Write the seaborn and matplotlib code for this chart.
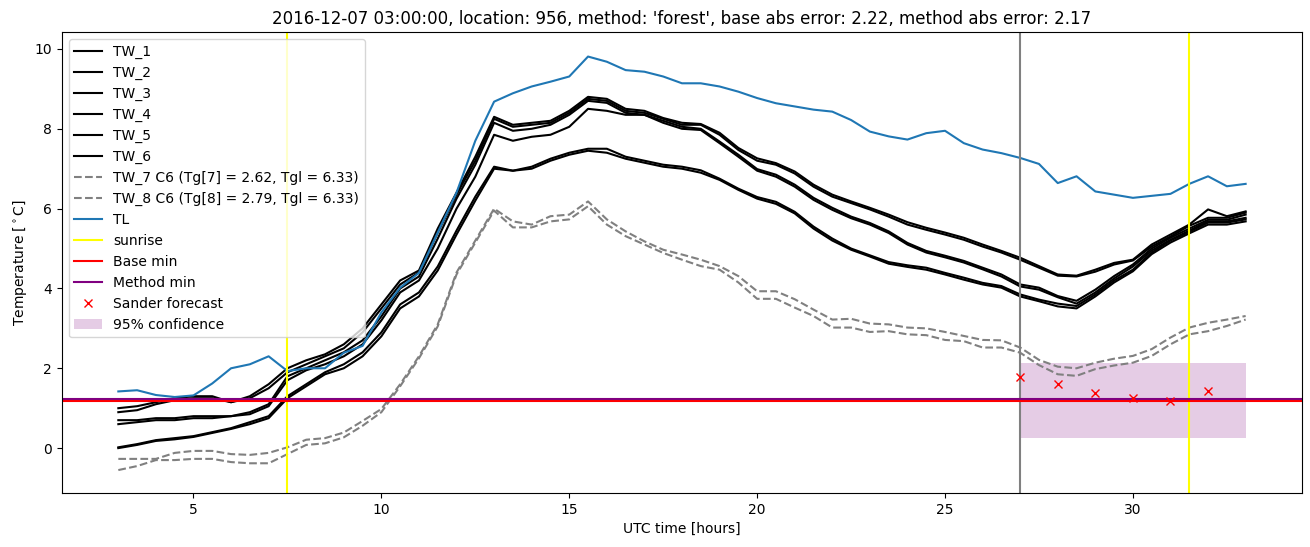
import matplotlib
matplotlib.use("Agg")
import matplotlib.pyplot as plt
import seaborn as sns
import pandas as pd

hours = [3.0, 3.5, 4.0, 4.5, 5.0, 5.5, 6.0, 6.5, 7.0, 7.5,
         8.0, 8.5, 9.0, 9.5, 10.0, 10.5, 11.0, 11.5, 12.0, 12.5,
         13.0, 13.5, 14.0, 14.5, 15.0, 15.5, 16.0, 16.5, 17.0, 17.5,
         18.0, 18.5, 19.0, 19.5, 20.0, 20.5, 21.0, 21.5, 22.0, 22.5,
         23.0, 23.5, 24.0, 24.5, 25.0, 25.5, 26.0, 26.5, 27.0, 27.5,
         28.0, 28.5, 29.0, 29.5, 30.0, 30.5, 31.0, 31.5, 32.0, 32.5,
         33.0]

tw1 = [1.0, 1.05, 1.15, 1.25, 1.3, 1.3, 1.15, 1.3, 1.6, 2.0,
       2.2, 2.35, 2.6, 3.0, 3.6, 4.2, 4.45, 5.5, 6.4, 7.3,
       8.3, 8.1, 8.15, 8.2, 8.45, 8.8, 8.75, 8.5, 8.45, 8.27,
       8.15, 8.12, 7.9, 7.52, 7.26, 7.14, 6.93, 6.6, 6.35, 6.18,
       6.02, 5.85, 5.66, 5.52, 5.4, 5.27, 5.1, 4.94, 4.77, 4.56,
       4.35, 4.32, 4.47, 4.64, 4.72, 5.1, 5.35, 5.6, 5.98, 5.81,
       5.93]
tw2 = [0.9, 0.95, 1.1, 1.2, 1.25, 1.25, 1.15, 1.25, 1.5, 1.9,
       2.1, 2.3, 2.5, 2.9, 3.5, 4.1, 4.4, 5.4, 6.35, 7.2,
       8.25, 8.05, 8.1, 8.15, 8.4, 8.75, 8.7, 8.45, 8.4, 8.25,
       8.1, 8.1, 7.85, 7.47, 7.2, 7.1, 6.88, 6.55, 6.3, 6.14,
       5.98, 5.8, 5.6, 5.47, 5.35, 5.22, 5.05, 4.9, 4.72, 4.52,
       4.32, 4.3, 4.42, 4.6, 4.7, 5.05, 5.3, 5.57, 5.77, 5.77,
       5.9]
tw3 = [0.7, 0.7, 0.75, 0.75, 0.8, 0.8, 0.8, 0.9, 1.1, 1.8,
       2.0, 2.2, 2.4, 2.7, 3.3, 4.0, 4.3, 5.25, 6.25, 7.1,
       8.15, 7.95, 8.0, 8.1, 8.35, 8.7, 8.65, 8.4, 8.35, 8.2,
       8.05, 8.0, 7.68, 7.35, 6.99, 6.85, 6.6, 6.27, 6.02, 5.8,
       5.64, 5.43, 5.14, 4.94, 4.82, 4.69, 4.52, 4.35, 4.1, 4.02,
       3.81, 3.69, 3.97, 4.31, 4.6, 5.0, 5.27, 5.5, 5.72, 5.72,
       5.85]
tw4 = [0.6, 0.65, 0.7, 0.7, 0.75, 0.75, 0.8, 0.85, 1.05, 1.7,
       1.95, 2.1, 2.3, 2.6, 3.2, 3.9, 4.2, 5.0, 6.0, 6.8,
       7.85, 7.7, 7.8, 7.85, 8.05, 8.5, 8.45, 8.35, 8.35, 8.15,
       8.0, 7.97, 7.64, 7.3, 6.95, 6.8, 6.55, 6.22, 5.97, 5.76,
       5.6, 5.39, 5.1, 4.9, 4.78, 4.65, 4.48, 4.3, 4.05, 3.97,
       3.78, 3.62, 3.9, 4.25, 4.55, 4.95, 5.22, 5.45, 5.68, 5.68,
       5.77]
tw5 = [0.02, 0.1, 0.2, 0.25, 0.3, 0.4, 0.5, 0.65, 0.8, 1.3,
       1.6, 1.9, 2.1, 2.4, 2.9, 3.6, 3.9, 4.55, 5.45, 6.3,
       7.05, 6.95, 7.05, 7.25, 7.4, 7.5, 7.5, 7.3, 7.2, 7.1,
       7.05, 6.96, 6.75, 6.5, 6.29, 6.17, 5.92, 5.55, 5.25, 5.0,
       4.83, 4.66, 4.58, 4.52, 4.39, 4.27, 4.14, 4.06, 3.85, 3.72,
       3.62, 3.56, 3.85, 4.2, 4.47, 4.9, 5.2, 5.42, 5.65, 5.65,
       5.73]
tw6 = [0.0, 0.08, 0.18, 0.22, 0.28, 0.38, 0.48, 0.6, 0.75, 1.25,
       1.55, 1.85, 2.0, 2.3, 2.8, 3.5, 3.8, 4.45, 5.35, 6.2,
       7.0, 6.95, 7.0, 7.2, 7.35, 7.45, 7.4, 7.25, 7.15, 7.05,
       7.0, 6.9, 6.72, 6.47, 6.25, 6.12, 5.88, 5.5, 5.2, 4.97,
       4.8, 4.62, 4.54, 4.47, 4.35, 4.22, 4.1, 4.02, 3.8, 3.68,
       3.55, 3.5, 3.8, 4.15, 4.43, 4.86, 5.15, 5.38, 5.6, 5.6,
       5.68]
tw7 = [-0.27, -0.27, -0.27, -0.12, -0.07, -0.07, -0.15, -0.17, -0.12, 0.02,
       0.21, 0.25, 0.39, 0.68, 0.98, 1.6, 2.3, 3.1, 4.4, 5.2,
       6.0, 5.68, 5.6, 5.81, 5.85, 6.18, 5.73, 5.43, 5.18, 4.97,
       4.85, 4.72, 4.56, 4.31, 3.93, 3.93, 3.73, 3.47, 3.22, 3.24,
       3.12, 3.1, 3.02, 3.0, 2.91, 2.81, 2.71, 2.7, 2.52, 2.21,
       2.04, 2.0, 2.14, 2.24, 2.31, 2.48, 2.77, 3.02, 3.14, 3.22,
       3.31]
tw8 = [-0.55, -0.45, -0.3, -0.3, -0.27, -0.27, -0.35, -0.38, -0.38, -0.15,
       0.08, 0.12, 0.27, 0.56, 0.9, 1.55, 2.25, 3.05, 4.35, 5.15,
       5.95, 5.53, 5.53, 5.68, 5.73, 6.06, 5.6, 5.31, 5.1, 4.89,
       4.72, 4.56, 4.47, 4.15, 3.74, 3.74, 3.52, 3.31, 3.02, 3.02,
       2.91, 2.93, 2.85, 2.83, 2.71, 2.68, 2.52, 2.52, 2.39, 2.08,
       1.85, 1.81, 1.98, 2.07, 2.14, 2.31, 2.6, 2.85, 2.93, 3.06,
       3.22]
tl = [1.42, 1.45, 1.33, 1.28, 1.32, 1.62, 2.0, 2.1, 2.3, 1.93,
      2.0, 2.0, 2.39, 2.56, 3.4, 4.02, 4.39, 5.4, 6.4, 7.7,
      8.68, 8.89, 9.06, 9.18, 9.31, 9.81, 9.68, 9.47, 9.43, 9.31,
      9.14, 9.14, 9.06, 8.93, 8.77, 8.64, 8.56, 8.48, 8.43, 8.22,
      7.93, 7.81, 7.73, 7.89, 7.95, 7.64, 7.48, 7.39, 7.27, 7.12,
      6.64, 6.81, 6.43, 6.35, 6.27, 6.32, 6.37, 6.62, 6.81, 6.56,
      6.62]

tw_labels = ["TW_1", "TW_2", "TW_3", "TW_4", "TW_5", "TW_6"]
gray_labels = ["TW_7 C6 (Tg[7] = 2.62, Tgl = 6.33)",
               "TW_8 C6 (Tg[8] = 2.79, Tgl = 6.33)"]

sunrise_hours = [7.5, 31.5]
forecast_start = 27.0
base_min = 1.18
method_min = 1.23

sander_hours = [27, 28, 29, 30, 31, 32]
sander_values = [1.79, 1.60, 1.375, 1.25, 1.17, 1.42]
conf_hours = [27.0, 33.0]
conf_low = [0.26, 0.26]
conf_high = [2.14, 2.14]

title = ("2016-12-07 03:00:00, location: 956, method: 'forest', "
         "base abs error: 2.22, method abs error: 2.17")

fig = plt.figure(figsize=(13.1, 5.47), dpi=100)
ax = fig.add_axes([0.0473, 0.0987, 0.9466, 0.8428])

for lab, vals in zip(tw_labels, [tw1, tw2, tw3, tw4, tw5, tw6]):
    sns.lineplot(x=hours, y=vals, ax=ax, color="black", label=lab,
                 linewidth=1.5, estimator=None, sort=False)
for lab, vals in zip(gray_labels, [tw7, tw8]):
    sns.lineplot(x=hours, y=vals, ax=ax, color="gray", label=lab,
                 linestyle="--", linewidth=1.5, estimator=None, sort=False)
sns.lineplot(x=hours, y=tl, ax=ax, color="#1f77b4", label="TL",
             linewidth=1.5, estimator=None, sort=False)

ax.axvline(forecast_start, color="gray")
for i, s in enumerate(sunrise_hours):
    ax.axvline(s, color="yellow", label="sunrise" if i == 0 else None)
ax.axhline(base_min, color="red", label="Base min")
ax.axhline(method_min, color="purple", label="Method min")
ax.plot(sander_hours, sander_values, "rx", label="Sander forecast")
ax.fill_between(conf_hours, conf_low, conf_high, color="purple", alpha=0.2,
                linewidth=0, label="95% confidence")

ax.set_xlim(1.5, 34.5)
ax.set_ylim(-1.125, 10.425)
ax.set_xlabel("UTC time [hours]")
ax.set_ylabel("Temperature [$^\\circ$C]")
ax.set_title(title)
ax.legend(loc="upper left")

fig.savefig("out.png", dpi=100)
